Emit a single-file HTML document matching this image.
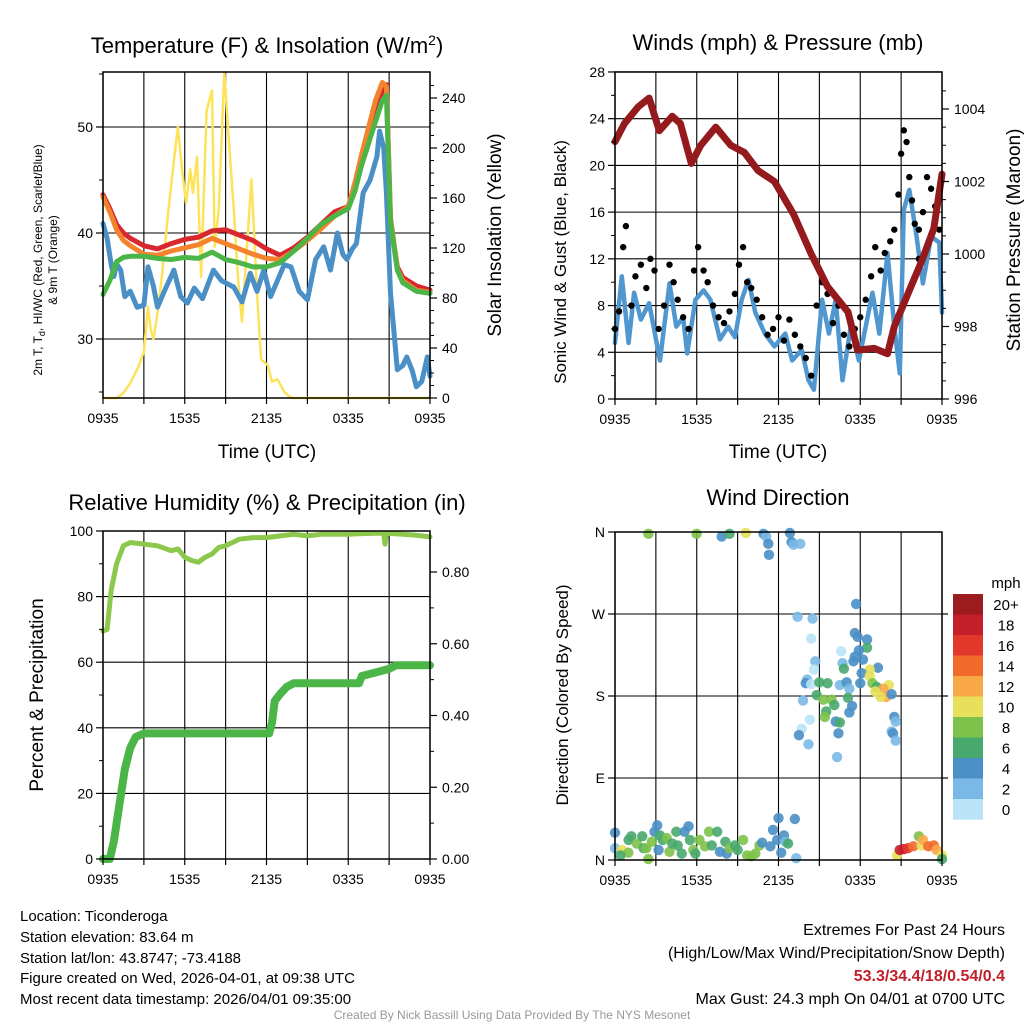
<!DOCTYPE html>
<html><head><meta charset="utf-8"><style>
html,body{margin:0;padding:0;background:#fff;}
svg{display:block;font-family:"Liberation Sans",Arial,sans-serif;}
</style></head><body>
<svg id="chart" width="1024" height="1024" viewBox="0 0 1024 1024" xmlns="http://www.w3.org/2000/svg">
<rect x="0" y="0" width="1024" height="1024" fill="#fff"/>
<g id="grids"></g>
<g id="marks"></g>
<g id="frames"></g>
<text x="267" y="53" font-size="22" text-anchor="middle">Temperature (F) &amp; Insolation (W/m<tspan dy="-8" font-size="14">2</tspan><tspan dy="8">)</tspan></text>
<text x="778" y="50" font-size="22" text-anchor="middle">Winds (mph) &amp; Pressure (mb)</text>
<text x="267" y="510" font-size="22" text-anchor="middle">Relative Humidity (%) &amp; Precipitation (in)</text>
<text x="778" y="505" font-size="22" text-anchor="middle">Wind Direction</text>
<text x="267" y="458" font-size="19" text-anchor="middle">Time (UTC)</text>
<text x="778" y="458" font-size="19" text-anchor="middle">Time (UTC)</text>
<text font-size="12" text-anchor="middle" transform="translate(42,260) rotate(-90)">2m T, T<tspan dy="3" font-size="9">d</tspan><tspan dy="-3">, HI/WC (Red, Green, Scarlet/Blue)</tspan></text>
<text font-size="12" text-anchor="middle" transform="translate(57,260) rotate(-90)">&amp; 9m T (Orange)</text>
<text font-size="19" text-anchor="middle" transform="translate(501,235) rotate(-90)">Solar Insolation (Yellow)</text>
<text font-size="17" text-anchor="middle" transform="translate(566,262) rotate(-90)">Sonic Wind &amp; Gust (Blue, Black)</text>
<text font-size="19" text-anchor="middle" transform="translate(1020,240) rotate(-90)">Station Pressure (Maroon)</text>
<text font-size="19" text-anchor="middle" transform="translate(43,695) rotate(-90)">Percent &amp; Precipitation</text>
<text font-size="17" text-anchor="middle" transform="translate(568,695) rotate(-90)">Direction (Colored By Speed)</text>
<text x="1006" y="588" font-size="15" text-anchor="middle">mph</text>
<g font-size="15">
<text x="20" y="921">Location: Ticonderoga</text>
<text x="20" y="942">Station elevation: 83.64 m</text>
<text x="20" y="963">Station lat/lon: 43.8747; -73.4188</text>
<text x="20" y="983">Figure created on Wed, 2026-04-01, at 09:38 UTC</text>
<text x="20" y="1004">Most recent data timestamp: 2026/04/01 09:35:00</text>
</g>
<g font-size="16" text-anchor="end">
<text x="1005" y="935">Extremes For Past 24 Hours</text>
<text x="1005" y="958">(High/Low/Max Wind/Precipitation/Snow Depth)</text>
<text x="1005" y="981" fill="#c0202a" font-weight="bold">53.3/34.4/18/0.54/0.4</text>
<text x="1005" y="1004">Max Gust: 24.3 mph On 04/01 at 0700 UTC</text>
</g>
<text x="512" y="1019" font-size="12" fill="#999" text-anchor="middle">Created By Nick Bassill Using Data Provided By The NYS Mesonet</text>
</svg>
<script>
// ---- Panel 1 data ----
const tTimes = [0,0.5,1,1.5,2,3,4,5,6,7,8,9,10,11,12,13,14,15,16,17,18,18.5,19,19.5,20,20.5,20.8,21.1,21.6,22,23,24];
const tempRed = [43.6,42.3,40.8,40,39.5,38.8,38.5,39,39.4,39.6,40.2,40.3,39.8,39.3,38.5,37.9,38.6,39.6,40.8,42,42.5,44.3,46.5,48.5,51,53.5,54,41.2,36.8,35.8,35,34.6];
const tempOrange = [43.4,42,40.3,39.3,38.8,38,37.9,38.3,38.6,38.9,39.5,39,38.5,38,37.6,37.5,38.3,39.3,40.4,41.6,42.5,44.8,47.5,50,52.5,54.2,53.8,41.5,36.6,35.5,34.6,34.4];
const tempGreen = [34.2,35.5,37.3,37.7,37.8,37.8,37.6,37.5,37.7,37.6,38.2,37.5,37.2,36.8,36.8,37.2,38.3,39.5,40.8,41.6,42.3,44,46.5,48.5,50.5,52.5,53,41,36.5,35.3,34.5,34.3];
const dTimes = [0,0.3,0.6,0.8,1,1.3,1.6,2,2.5,3,3.3,3.7,4,4.5,5.2,5.7,6.2,6.7,7.3,8.1,8.7,9.6,10.2,10.8,11.3,11.8,12.3,12.8,13.3,13.8,14.4,15,15.6,16.2,16.7,17.2,17.6,17.9,18.3,18.6,19.1,19.6,20.1,20.3,20.6,20.8,21.1,21.4,21.6,22,22.3,22.7,23,23.4,23.8,24];
const dewBlue = [40.9,39.5,37,35.9,37.1,36.5,34,34.5,33,33.2,36.8,35,33,34.5,36.5,34,33.4,34.8,33.8,36.5,35.5,34.9,33.5,36.2,34.5,36.5,34,35.5,37,36.8,34.5,33.7,37.5,38.7,36.5,40,38,37.5,38.5,39,43.8,45,47.2,49.6,48,43.8,34.3,30,27.1,27.5,28.3,27,25.5,26,28.3,26.5];
const sTimes = [0,1,1.5,2,2.6,3,3.3,3.5,3.7,4,4.3,4.8,5.2,5.5,5.8,6.1,6.4,6.6,6.9,7.2,7.6,8,8.2,8.5,8.9,9.3,9.6,9.9,10.2,10.5,10.9,11.3,11.6,12.1,12.4,12.8,13.3,13.8,18,24];
const solar = [0,0,4,12,25,37,73,55,47,68,95,150,190,217,183,156,183,164,193,97,230,246,121,151,261,196,151,97,61,111,175,84,31,26,13,15,5,0,0,0];
const tempTicks = [30,40,50];
const solarTicks = [0,40,80,120,160,200,240];
const timeLabels = ["0935","1535","2135","0335","0935"];
// ---- Panel 2 data ----
const pTimes = [0,0.7,1.7,2.5,3.25,4.2,4.8,5.6,6.3,7.4,8.5,9.5,10.5,11.7,13.1,14.4,15.6,17.1,17.8,19,20,20.5,21.5,22.5,23.4,24];
const pressure = [1003.1,1003.6,1004.06,1004.3,1003.4,1003.8,1003.6,1002.5,1003.0,1003.5,1003.0,1002.8,1002.3,1002.0,1001.1,1000.0,999.1,998.4,997.35,997.4,997.25,998.0,998.9,999.8,1000.7,1002.2];
const wTimes = [0,0.5,1,1.4,1.9,2.5,3.3,4,4.5,5,5.3,5.9,6.5,7,7.7,8.3,8.8,9.3,9.8,10.3,11,11.7,12.5,13,13.7,14.2,14.6,15.2,15.7,16.2,16.7,17.3,17.9,18.9,19.4,20,20.5,20.9,21.2,21.6,22.1,22.6,23.2,23.8,24];
const windSpd = [4.8,10.5,4.8,9.1,6.8,8.2,3.3,9.9,6.2,7,3.9,8.5,9.3,8.5,5.1,6.2,5.3,8.5,10.2,7.4,5.6,4.5,5.6,3.3,4.2,1.6,0.8,8.5,5.6,8.5,1.6,6.2,3.3,9.1,5.6,12.5,6.2,2.2,16.2,17.9,14.2,9.9,13.9,13.4,7.4];
const gTimes = [0,0.3,0.6,0.8,1.2,1.5,1.9,2.3,2.6,2.9,3.2,3.6,4,4.3,4.6,5,5.4,5.8,6.1,6.5,6.8,7.2,7.6,8,8.4,8.8,9.1,9.4,9.7,10,10.4,10.8,11.2,11.6,12,12.4,12.8,13.2,13.6,14,14.4,14.8,15.2,15.6,16,16.4,16.8,17.2,17.6,18,18.4,18.8,19.1,19.5,19.8,20.2,20.5,20.8,21,21.2,21.4,21.6,21.8,22,22.3,22.3,22.6,22.9,23.2,23.5,23.8];
const gustSpd = [6,7.5,13,14.8,8,10.5,11.5,9.5,12,11,6,8,11.5,10,8.5,7,6,11,13,11,10,8,7,6.5,7.5,9,11.5,13,10,9.5,8.5,7,5.5,6,7,5,6.8,5.5,4.5,3.5,2,8,10,9,6.5,8,5.5,4.5,6,7,8.5,10.5,13,11,12.5,13.5,14.5,17.5,21,23,22,19,17,15,14.5,12,16,19,18,16.5,14.5];
const windTicks = [0,4,8,12,16,20,24,28];
const presTicks = [996,998,1000,1002,1004];
// ---- Panel 3 data ----
const rhTimes = [0,0.3,0.6,1,1.5,2,3,4,5,5.5,6,6.5,7,7.5,8,8.5,9,9.5,10,11,12,13,14,15,16,17,18,19,20,20.6,20.7,20.8,22,23,24];
const rhVals = [69.5,70,82,90,95.5,96.5,96,95.5,94,94.5,92,91,90.5,92,93,95,95.5,96.5,97.5,98,98,98.5,99,98.5,99,99,99,99.2,99.3,99.3,96,99.3,99,98.7,98.2];
const prTimes = [0,0.5,0.8,1.2,1.6,2,2.4,3,12.2,12.4,12.6,13,13.5,14,18.8,19,20,21,21.5,24];
const precip = [0,0,0.05,0.15,0.25,0.31,0.34,0.35,0.35,0.38,0.44,0.46,0.48,0.49,0.49,0.51,0.52,0.53,0.54,0.54];
const pctTicks = [0,20,40,60,80,100];
const inTicks = [0,0.2,0.4,0.6,0.8];
// ---- Panel 4 data ----
const dirTimes = [2.45,5.99,7.83,8.4,9.6,10.9,11.1,11.25,11.3,12.84,12.96,13.6,13.1,
17.7,13.4,14.5,14.4,17.6,17.8,18.5,18.5,16.6,17.9,17.6,17.5,18.2,16.7,16.8,14.7,14.6,19.3,18.7,18.1,18.7,14.1,14.0,14.4,15.0,15.6,16.5,17.0,17.2,18.0,18.9,19.2,20.1,19.7,19.9,19.5,20.3,19.1,14.8,15.3,15.9,16.1,17.1,17.4,17.2,15.5,15.4,13.8,14.3,13.7,13.5,14.2,16.2,16.5,16.4,16.3,20.5,20.6,20.3,20.4,20.6,
0,0,0.5,0.98,0.4,1.0,1.2,1.6,2.0,2.1,2.3,2.45,2.7,2.9,3.1,3.2,3.3,3.5,3.8,4.0,4.2,4.5,4.6,4.9,5.1,5.4,5.5,5.75,5.9,6.2,6.6,6.9,7.1,7.5,7.7,8.1,8.2,8.4,8.8,9.0,9.4,9.7,10.0,10.3,10.6,10.8,11.4,11.6,11.9,12.0,12.2,12.4,12.5,12.7,13.2,13.3,
20.7,20.9,21.2,21.5,21.9,22.3,22.5,22.6,23.0,23.4,23.6,24,24];
const dirDeg = [358,358,355,358,359,358,355,347,335,359,349,347,346,
281,267,265,243,249,245,242,233,229,230,223,218,220,216,210,218,209,211,209,205,202,198,194,193,195,194,192,195,188,194,194,190,192,188,179,179,182,185,181,176,176,170,178,169,162,163,157,175,154,144,137,127,152,151,139,113,157,152,141,139,131,
30,13,11,8,5,22,26,18,26,13,13,1,20,31,38,11,27,22,24,9,18,31,16,7,31,37,22,11,7,22,15,31,16,31,9,20,7,13,16,11,22,5,4,7,16,19,15,33,22,46,8,27,20,18,45,2,
5,11,12,13,15,26,16,22,15,16,11,5,1];
const dirSpeed = [9,9,5,7,11,5,3,5,5,5,5,3,3,
5,3,3,1,5,5,5,7,1,5,5,5,5,3,7,3,1,5,11,5,11,3,5,1,7,7,3,5,3,5,9,7,11,13,13,11,5,11,7,9,9,7,7,5,5,7,9,3,1,1,5,3,5,7,5,3,5,3,3,5,3,
5,3,11,9,7,7,7,9,7,7,9,9,9,5,5,5,7,7,9,9,7,7,7,7,5,5,7,9,7,9,9,9,7,7,5,7,5,9,7,7,9,9,9,9,9,5,5,5,5,5,5,5,3,7,5,3,
11,19,19,17,15,9,11,13,15,15,13,11,7];
const dirLabels = ["N","E","S","W","N"];
const cbLabels = ["20+","18","16","14","12","10","8","6","4","2","0"];
const cbColors = ["#9b1b1e","#c21f2a","#e2382b","#f26a2b","#f9a848","#e8e05a","#7dc24a","#48a96d","#4a8fc6","#7ab9e5","#b9e3f7"];

const NS = "http://www.w3.org/2000/svg";
const grids = document.getElementById('grids');
const marks = document.getElementById('marks');
const frames = document.getElementById('frames');
function mk(tag, attrs, parent){ const e=document.createElementNS(NS,tag); for(const k in attrs) e.setAttribute(k,attrs[k]); (parent||marks).appendChild(e); return e; }

const P1={x0:103,x1:430,y0:72,y1:398};
const P2={x0:615,x1:942,y0:72,y1:399};
const P3={x0:103,x1:430,y0:531,y1:859};
const P4={x0:615,x1:942,y0:532,y1:860};
function xAt(p,h){ return p.x0 + h/24*(p.x1-p.x0); }
const yTemp = v => 339 - (v-30)*10.6;
const ySolar = v => 398 - v*1.25;
const yWind = v => 399 - v*11.68;
const yPres = v => 399 - (v-996)*36.25;
const yRH = v => 859 - v*3.28;
const yPr = v => 859 - v*358.75;
const yDir = v => 860 - v/360*328;

function panelFrame(p, name, hGrid){
  for(let i=0;i<=8;i++){ const x=p.x0+i*(p.x1-p.x0)/8;
    const g=mk('line',{x1:x,x2:x,y1:p.y0,y2:p.y1,stroke:'#000','stroke-width':1.1},grids);
    
    
    mk('line',{x1:x,x2:x,y1:p.y1,y2:p.y1+6,stroke:'#000','stroke-width':1.2},frames);
  }
  hGrid.forEach(y=>{ const g=mk('line',{x1:p.x0,x2:p.x1,y1:y,y2:y,stroke:'#000','stroke-width':1.1},grids);
    
    
  });
  const r=mk('rect',{x:p.x0,y:p.y0,width:p.x1-p.x0,height:p.y1-p.y0,fill:'none',stroke:'#000','stroke-width':1.5},frames);
  
  
}
function xLabels(p,name){
  timeLabels.forEach((t,i)=>{ const e=mk('text',{x:xAt(p,i*6),y:p.y1+25,'font-size':14,'text-anchor':'middle'},frames); e.textContent=t;
    
     });
}
function leftTicks(p,vals,fy,fmt,name,minor){
  vals.forEach(v=>{ const y=fy(v); mk('line',{x1:p.x0-7,x2:p.x0,y1:y,y2:y,stroke:'#000','stroke-width':1.2},frames);
    const e=mk('text',{x:p.x0-10,y:y+5,'font-size':14,'text-anchor':'end'},frames); e.textContent=fmt(v);
    
     });
  (minor||[]).forEach(v=>{ const y=fy(v); mk('line',{x1:p.x0-4,x2:p.x0,y1:y,y2:y,stroke:'#000','stroke-width':1},frames); });
}
function rightTicks(p,vals,fy,fmt,name,minor){
  vals.forEach(v=>{ const y=fy(v); mk('line',{x1:p.x1,x2:p.x1+7,y1:y,y2:y,stroke:'#000','stroke-width':1.2},frames);
    const e=mk('text',{x:p.x1+12,y:y+5,'font-size':14,'text-anchor':'start'},frames); e.textContent=fmt(v);
    
     });
  (minor||[]).forEach(v=>{ const y=fy(v); mk('line',{x1:p.x1,x2:p.x1+4,y1:y,y2:y,stroke:'#000','stroke-width':1},frames); });
}
function line(p,ts,vs,fy,color,w,name){
  const pts=ts.map((t,i)=>xAt(p,t).toFixed(1)+','+fy(vs[i]).toFixed(1)).join(' ');
  const e=mk('polyline',{points:pts,fill:'none',stroke:color,'stroke-width':w,'stroke-linejoin':'round','stroke-linecap':'round'});
  
  
}
// Panel 1
panelFrame(P1,'temp-panel',tempTicks.map(yTemp));
line(P1,sTimes,solar,ySolar,'#fde35a',2.5,'solar-insolation-line');
line(P1,dTimes,dewBlue,yTemp,'#4a8fc6',5,'dewpoint-line');
line(P1,tTimes,tempRed,yTemp,'#d7282f',5,'temp-2m-line');
line(P1,tTimes,tempOrange,yTemp,'#f4832e',5,'temp-9m-line');
line(P1,tTimes,tempGreen,yTemp,'#4cb548',5,'heat-index-line');
leftTicks(P1,tempTicks,yTemp,v=>v,'temp-y',[25,35,45,55]);
rightTicks(P1,solarTicks,ySolar,v=>v,'solar-y',[10,20,30,50,60,70,90,100,110,130,140,150,170,180,190,210,220,230,250]);
xLabels(P1,'temp');
// Panel 2
panelFrame(P2,'wind-panel',windTicks.map(yWind));
line(P2,wTimes,windSpd,yWind,'#5096cf',4.5,'sonic-wind-line');
gTimes.forEach((t,i)=>{ const c=mk('circle',{cx:xAt(P2,t),cy:yWind(gustSpd[i]),r:3.2,fill:'#000'});
  
   });
line(P2,pTimes,pressure,yPres,'#951a1d',7,'pressure-line');
leftTicks(P2,windTicks,yWind,v=>v,'wind-y',[2,6,10,14,18,22,26]);
rightTicks(P2,presTicks,yPres,v=>v,'pressure-y',[996.5,997,997.5,998.5,999,999.5,1000.5,1001,1001.5,1002.5,1003,1003.5,1004.5]);
xLabels(P2,'wind');
// Panel 3
panelFrame(P3,'rh-panel',pctTicks.map(yRH));
line(P3,rhTimes,rhVals,yRH,'#8cc84b',5,'relative-humidity-line');
line(P3,prTimes,precip,yPr,'#4cb548',8,'precipitation-line');
leftTicks(P3,pctTicks,yRH,v=>v,'rh-y',[10,30,50,70,90]);
rightTicks(P3,inTicks,yPr,v=>v.toFixed(2),'precip-y',[0.1,0.3,0.5,0.7]);
xLabels(P3,'rh');
// Panel 4
panelFrame(P4,'dir-panel',[0,90,180,270,360].map(yDir));
dirTimes.forEach((t,i)=>{ const idx=Math.min(10,Math.floor(dirSpeed[i]/2));
  const c=mk('circle',{cx:xAt(P4,t),cy:yDir(dirDeg[i]),r:5.2,fill:cbColors[10-idx],'fill-opacity':0.9});
  
   });
leftTicks(P4,[0,90,180,270,360],yDir,v=>dirLabels[v/90],'dir-y');
[90,180,270].forEach(v=>{ mk('line',{x1:P4.x1,x2:P4.x1+6,y1:yDir(v),y2:yDir(v),stroke:'#000','stroke-width':1.2},frames); });
xLabels(P4,'dir');
// colorbar
cbLabels.forEach((l,i)=>{ const y=594+i*20.5;
  const r=mk('rect',{x:953,y:y,width:30,height:20.7,fill:cbColors[i]},frames);
  
  
  const e=mk('text',{x:1006,y:y+16,'font-size':15,'text-anchor':'middle'},frames); e.textContent=l;
  
  
});
</script>
</body></html>
